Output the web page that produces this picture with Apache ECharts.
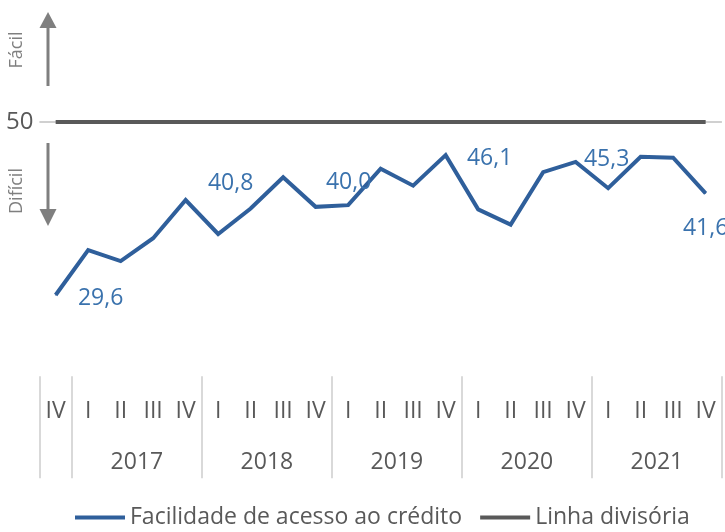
<!DOCTYPE html>
<html><head><meta charset="utf-8">
<script src="https://cdn.jsdelivr.net/npm/echarts@6/dist/echarts.min.js"></script>
<style>html,body{margin:0;padding:0;background:#fff}#c{width:725px;height:532px}</style>
</head><body><div id="c"></div>
<script>
// ---- data ----
const quarters = ['IV','I','II','III','IV','I','II','III','IV','I','II','III','IV','I','II','III','IV','I','II','III','IV'];
const years = ['2017','2018','2019','2020','2021'];
const yearStartIndex = [1,5,9,13,17];      // first quarter (I) of each year in the categories
const facilidade = [29.6,34.9,33.6,36.3,40.8,36.8,39.8,43.5,40.0,40.2,44.5,42.5,46.1,39.7,37.9,44.1,45.3,42.2,45.9,45.8,41.6];
const divisoria = [50,50,50,50,50,50,50,50,50,50,50,50,50,50,50,50,50,50,50,50,50];
const labeledIndex = [0,4,8,12,16,20];
const yTickValues = [50];
const referenceLevel = 50;

// ---- styles ----
const labelOffsets = {0:[45,3],4:[45,-17],8:[33,-24],12:[44,3],16:[31,-2],20:[0,35]};
const FONT = '"Open Sans", "Noto Sans", sans-serif';
const BLUE = '#2f5f9b', LBLUE = '#3a72ad', GRAY = '#595959', AGRAY = '#7f7f7f';

const yearCenters = yearStartIndex.map(s => s + 1.5);
const boundaries = [-0.5].concat(yearStartIndex.map(s => s - 0.5), [quarters.length - 0.5]);

const fmt = v => v.toFixed(1).replace('.', ',');

const chart = echarts.init(document.getElementById('c'), null, {renderer: 'canvas'});
chart.setOption({
  animation: false,
  textStyle: {fontFamily: FONT},
  grid: {left: 39.4, width: 682.5, top: 37.35, height: 339, containLabel: false},
  xAxis: [{
    type: 'category', data: quarters, position: 'bottom', boundaryGap: true,
    axisLine: {show: false}, axisTick: {show: false},
    axisLabel: {interval: 0, margin: 24, fontSize: 23, color: GRAY, fontFamily: FONT}
  }, {
    type: 'value', position: 'bottom', min: -0.5, max: quarters.length - 0.5,
    splitLine: {show: false}, axisLine: {show: false},
    axisTick: {show: true, customValues: boundaries, length: 102, lineStyle: {color: '#d9d9d9', width: 2}},
    axisLabel: {customValues: yearCenters, margin: 75, fontSize: 23, color: GRAY, fontFamily: FONT,
      formatter: v => years[yearCenters.indexOf(v)] || ''}
  }],
  yAxis: {
    type: 'value', min: 20, max: 60, position: 'left',
    splitLine: {show: false}, axisLine: {show: false}, axisTick: {show: false},
    axisLabel: {customValues: yTickValues, margin: 6, fontSize: 24, color: GRAY, fontFamily: FONT}
  },
  legend: {
    left: 75, top: 506, padding: 0, itemWidth: 50, itemHeight: 4, itemGap: 18, icon: 'rect',
    textStyle: {fontSize: 23, color: GRAY, fontFamily: FONT},
    data: ['Facilidade de acesso ao crédito', 'Linha divisória']
  },
  series: [{
    name: 'Linha divisória', type: 'line', data: divisoria, symbol: 'none',
    lineStyle: {color: GRAY, width: 4}, itemStyle: {color: GRAY}, z: 2,
    markLine: {silent: true, symbol: 'none', label: {show: false}, z: 1,
      lineStyle: {color: '#d0d0d0', width: 2, type: 'solid'},
      data: [{yAxis: referenceLevel}]}
  }, {
    name: 'Facilidade de acesso ao crédito', type: 'line', z: 3,
    data: facilidade.map((v, i) => labeledIndex.includes(i)
      ? {value: v, label: {show: true, offset: labelOffsets[i]}}
      : v),
    symbol: 'circle', symbolSize: 1, showSymbol: true, showAllSymbol: true,
    lineStyle: {color: BLUE, width: 4, join: 'miter'}, itemStyle: {color: BLUE},
    label: {show: false, position: 'inside', align: 'center', verticalAlign: 'middle',
      fontSize: 23, color: LBLUE, fontFamily: FONT, formatter: p => fmt(p.value)}
  }],
  graphic: [
    {type: 'line', shape: {x1: 48, y1: 86, x2: 48, y2: 26}, style: {stroke: AGRAY, lineWidth: 3}},
    {type: 'polygon', shape: {points: [[39.5, 28], [56.5, 28], [48, 12]]}, style: {fill: AGRAY}},
    {type: 'line', shape: {x1: 48, y1: 143, x2: 48, y2: 212}, style: {stroke: AGRAY, lineWidth: 3}},
    {type: 'polygon', shape: {points: [[39.5, 209], [56.5, 209], [48, 226]]}, style: {fill: AGRAY}},
    {type: 'text', x: 17, y: 50, rotation: Math.PI / 2,
      style: {text: 'Fácil', fill: AGRAY, fontSize: 18, fontFamily: FONT, align: 'center', verticalAlign: 'middle'}},
    {type: 'text', x: 17, y: 191, rotation: Math.PI / 2,
      style: {text: 'Difícil', fill: AGRAY, fontSize: 18, fontFamily: FONT, align: 'center', verticalAlign: 'middle'}}
  ]
});
</script></body></html>
